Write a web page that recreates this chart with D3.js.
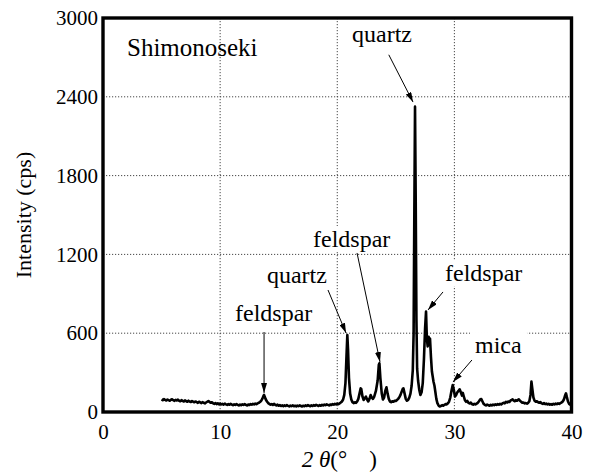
<!DOCTYPE html>
<html>
<head>
<meta charset="utf-8">
<script src="https://cdn.jsdelivr.net/npm/d3@7/dist/d3.min.js"></script>
<style>
html,body{margin:0;padding:0;background:#fff;}
svg{display:block;}
</style>
</head>
<body>
<script>
// ---------- data ----------
const xTicks = [0, 10, 20, 30, 40];
const yTicks = [0, 600, 1200, 1800, 2400, 3000];
const xGrid = [10, 20, 30];
const yGrid = [600, 1200, 1800, 2400];
const sampleName = "Shimonoseki";
const xTitle = ["2 θ", "(°", ")"];
const yTitle = "Intensity (cps)";

// XRD scan: [2θ (deg), intensity (cps)]
const scan = [
[5.0,96],[5.1,90],[5.2,98],[5.3,92],[5.4,88],[5.5,95],[5.6,90],[5.7,86],[5.8,93],[5.9,97],
[6.0,90],[6.1,85],[6.2,92],[6.3,88],[6.4,94],[6.5,86],[6.6,82],[6.7,90],[6.8,85],[6.9,80],
[7.0,88],[7.1,83],[7.2,78],[7.3,86],[7.4,80],[7.5,76],[7.6,84],[7.7,78],[7.8,74],[7.9,80],
[8.0,75],[8.1,70],[8.2,78],[8.3,73],[8.4,68],[8.5,75],[8.6,70],[8.7,66],[8.8,72],[8.9,78],
[9.0,84],[9.1,76],[9.2,70],[9.3,74],[9.4,66],[9.5,62],[9.6,68],[9.7,60],[9.8,66],[9.9,58],
[10.0,64],[10.1,58],[10.2,62],[10.3,56],[10.4,64],[10.5,58],[10.6,54],[10.7,60],[10.8,55],[10.9,62],
[11.0,57],[11.1,52],[11.2,58],[11.3,54],[11.4,60],[11.5,55],[11.6,50],[11.7,57],[11.8,52],[11.9,58],
[12.0,54],[12.1,60],[12.2,55],[12.3,50],[12.4,57],[12.5,53],[12.6,60],[12.7,56],[12.8,62],[12.9,58],
[13.0,64],[13.1,60],[13.2,66],[13.3,70],[13.4,76],[13.5,85],[13.6,100],[13.7,122],[13.75,130],[13.8,118],
[13.9,95],[14.0,80],[14.1,68],[14.2,62],[14.3,56],[14.4,60],[14.5,54],[14.6,62],[14.7,55],[14.8,50],
[14.9,56],[15.0,48],[15.1,52],[15.2,46],[15.3,50],[15.4,44],[15.5,50],[15.6,46],[15.7,52],[15.8,47],
[15.9,43],[16.0,49],[16.1,45],[16.2,50],[16.3,44],[16.4,48],[16.5,43],[16.6,49],[16.7,45],[16.8,50],
[16.9,46],[17.0,42],[17.1,48],[17.2,44],[17.3,50],[17.4,46],[17.5,52],[17.6,47],[17.7,44],[17.8,50],
[17.9,46],[18.0,52],[18.1,48],[18.2,54],[18.3,50],[18.4,46],[18.5,52],[18.6,48],[18.7,55],[18.8,50],
[18.9,56],[19.0,52],[19.1,58],[19.2,54],[19.3,50],[19.4,57],[19.5,53],[19.6,60],[19.7,56],[19.8,62],
[19.9,58],[20.0,64],[20.1,60],[20.2,66],[20.3,72],[20.4,80],[20.5,95],[20.6,130],[20.7,220],[20.8,450],
[20.86,586],[20.92,480],[21.0,260],[21.1,140],[21.2,95],[21.3,75],[21.4,68],[21.5,74],[21.6,70],[21.7,80],
[21.8,100],[21.9,140],[22.0,180],[22.05,176],[22.15,120],[22.25,92],[22.35,105],[22.45,117],[22.55,95],[22.65,80],
[22.75,100],[22.85,129],[22.95,110],[23.05,100],[23.15,115],[23.3,160],[23.45,240],[23.55,360],[23.6,371],[23.68,260],
[23.8,140],[23.9,95],[24.0,110],[24.1,160],[24.2,188],[24.3,140],[24.4,100],[24.5,80],[24.6,75],[24.7,82],
[24.8,78],[24.9,86],[25.0,84],[25.1,92],[25.2,100],[25.3,112],[25.4,130],[25.5,155],[25.6,178],[25.65,180],
[25.75,140],[25.85,100],[25.95,86],[26.05,92],[26.15,110],[26.25,140],[26.35,200],[26.45,320],[26.52,600],[26.58,1500],
[26.64,2325],[26.7,1600],[26.76,700],[26.82,330],[26.9,240],[27.0,170],[27.1,130],[27.2,150],[27.3,220],[27.4,400],
[27.5,640],[27.58,764],[27.65,560],[27.72,500],[27.8,573],[27.86,530],[27.92,560],[28.0,420],[28.08,310],[28.15,270],
[28.22,230],[28.3,200],[28.38,150],[28.46,100],[28.55,68],[28.65,50],[28.75,42],[28.85,45],[28.95,52],[29.05,48],
[29.15,55],[29.25,60],[29.35,58],[29.45,66],[29.55,80],[29.65,110],[29.75,160],[29.86,206],[29.95,170],[30.05,117],
[30.15,130],[30.25,150],[30.35,160],[30.45,173],[30.55,150],[30.65,125],[30.72,145],[30.8,120],[30.9,90],[31.0,78],
[31.1,85],[31.2,70],[31.3,65],[31.4,72],[31.5,60],[31.6,56],[31.7,62],[31.8,58],[31.9,64],[32.0,70],
[32.1,82],[32.2,95],[32.3,99],[32.4,80],[32.5,62],[32.6,55],[32.7,50],[32.8,56],[32.9,52],[33.0,48],
[33.1,55],[33.2,50],[33.3,56],[33.4,52],[33.5,58],[33.6,54],[33.7,60],[33.8,56],[33.9,62],[34.0,58],
[34.1,65],[34.2,70],[34.3,66],[34.4,78],[34.5,72],[34.6,80],[34.7,76],[34.8,88],[34.9,92],[34.97,97],
[35.05,88],[35.15,82],[35.25,90],[35.35,86],[35.45,94],[35.5,97],[35.6,85],[35.7,78],[35.8,70],[35.9,72],
[36.0,66],[36.1,68],[36.2,64],[36.3,70],[36.4,82],[36.5,130],[36.58,231],[36.65,180],[36.75,110],[36.85,85],
[36.95,78],[37.05,82],[37.15,74],[37.25,70],[37.35,76],[37.45,66],[37.55,62],[37.65,68],[37.75,60],[37.85,64],
[37.95,58],[38.05,62],[38.15,56],[38.25,60],[38.35,55],[38.45,62],[38.55,58],[38.65,64],[38.75,60],[38.85,66],
[38.95,62],[39.05,68],[39.15,72],[39.25,80],[39.35,95],[39.45,125],[39.53,142],[39.6,115],[39.7,80],[39.8,62],
[39.9,55],[40.0,52]
];

// peak annotations: label anchor (2θ, cps), arrow tail and tip (2θ, cps)
const annLabels = ["quartz", "quartz", "feldspar", "feldspar", "feldspar", "mica"];
const annAnchor = ["end", "end", "start", "start", "start", "start"];
const annText = [[26.38, 2820], [19.12, 982], [17.93, 1256], [29.2, 997], [11.27, 693], [31.76, 449]];
const annTail = [[24.4, 2720], [19.21, 929], [21.69, 1211], [29.03, 914], [13.75, 609], [31.5, 396]];
const annTip  = [[26.47, 2360], [20.75, 601], [23.65, 381], [27.75, 777], [13.75, 145], [29.88, 228]];

// ---------- layout ----------
const W = 594, H = 472;
const L = 103, R = 571.5, T = 18, B = 412;
const SERIF = "'Liberation Serif', 'DejaVu Serif', 'Times New Roman', Times, serif";

const svg = d3.select("body").append("svg").attr("width", W).attr("height", H);

const x = d3.scaleLinear().domain([0, 40]).range([L, R]);
const y = d3.scaleLinear().domain([0, 3000]).range([B, T]);

// grid
const grid = svg.append("g");
grid.selectAll(".gx").data(xGrid).enter().append("line")
  .attr("x1", d => x(d)).attr("x2", d => x(d)).attr("y1", T).attr("y2", B)
  .attr("stroke", "#333").attr("stroke-width", 0.9).attr("stroke-dasharray", "1.2,1.8");
grid.selectAll(".gy").data(yGrid).enter().append("line")
  .attr("x1", L).attr("x2", R).attr("y1", d => y(d)).attr("y2", d => y(d))
  .attr("stroke", "#333").attr("stroke-width", 0.9).attr("stroke-dasharray", "1.2,1.8");

// annotation labels (white boxes hide the grid)
const annG = svg.append("g");
const annData = annLabels.map((t, i) => ({t, a: annAnchor[i], p: annText[i], tail: annTail[i], tip: annTip[i]}));
const labels = annG.selectAll("text").data(annData).enter().append("text")
  .attr("x", d => x(d.p[0])).attr("y", d => y(d.p[1]))
  .attr("text-anchor", d => d.a)
  .style("font-family", SERIF).style("font-size", "24px")
  .text(d => d.t);
labels.each(function() {
  const bb = this.getBBox();
  annG.insert("rect", "text").attr("x", bb.x - 5).attr("y", bb.y).attr("width", bb.width + 10).attr("height", bb.height)
    .attr("fill", "#fff");
});

// data line
const line = d3.line().x(d => x(d[0])).y(d => y(d[1]));
svg.append("path").datum(scan).attr("d", line)
  .attr("fill", "none").attr("stroke", "#000").attr("stroke-width", 2.6).attr("stroke-linejoin", "round");

// arrows
const defs = svg.append("defs");
defs.append("marker").attr("id", "ah").attr("viewBox", "0 0 10 6").attr("refX", 10).attr("refY", 3)
  .attr("markerWidth", 10).attr("markerHeight", 6).attr("markerUnits", "userSpaceOnUse").attr("orient", "auto")
  .append("path").attr("d", "M0,0L10,3L0,6Z").attr("fill", "#000");
svg.append("g").selectAll("line").data(annData).enter().append("line")
  .attr("x1", d => x(d.tail[0])).attr("y1", d => y(d.tail[1]))
  .attr("x2", d => x(d.tip[0])).attr("y2", d => y(d.tip[1]))
  .attr("stroke", "#000").attr("stroke-width", 1).attr("marker-end", "url(#ah)");

// frame
svg.append("rect").attr("x", L).attr("y", T).attr("width", R - L).attr("height", B - T)
  .attr("fill", "none").attr("stroke", "#000").attr("stroke-width", 3.4);

// axes (labels only, as in the reference)
const xAxis = d3.axisBottom(x).tickValues(xTicks).tickSize(0).tickPadding(12).tickFormat(d3.format("d"));
const gx = svg.append("g").attr("transform", `translate(0,${B})`).call(xAxis);
gx.select(".domain").remove();
gx.selectAll("text").style("font-family", SERIF).style("font-size", "21px").attr("fill", "#000");

const yAxis = d3.axisLeft(y).tickValues(yTicks).tickSize(0).tickPadding(5).tickFormat(d3.format("d"));
const gy = svg.append("g").attr("transform", `translate(${L},0)`).call(yAxis);
gy.select(".domain").remove();
gy.selectAll("text").style("font-family", SERIF).style("font-size", "21px").attr("fill", "#000");

// sample name
svg.append("text").attr("x", x(2.05)).attr("y", y(2711))
  .style("font-family", SERIF).style("font-size", "25px").text(sampleName);

// axis titles
const xt = svg.append("text").attr("x", (L + R) / 2 + 2).attr("y", 467).attr("text-anchor", "middle")
  .style("font-family", SERIF).style("font-size", "23px");
xt.append("tspan").attr("font-style", "italic").text(xTitle[0]);
xt.append("tspan").text(xTitle[1]);
xt.append("tspan").attr("dx", 22).text(xTitle[2]);

svg.append("text").attr("transform", `translate(31,${(T + B) / 2}) rotate(-90)`)
  .attr("text-anchor", "middle").style("font-family", SERIF).style("font-size", "22px").text(yTitle);
</script>
</body>
</html>
